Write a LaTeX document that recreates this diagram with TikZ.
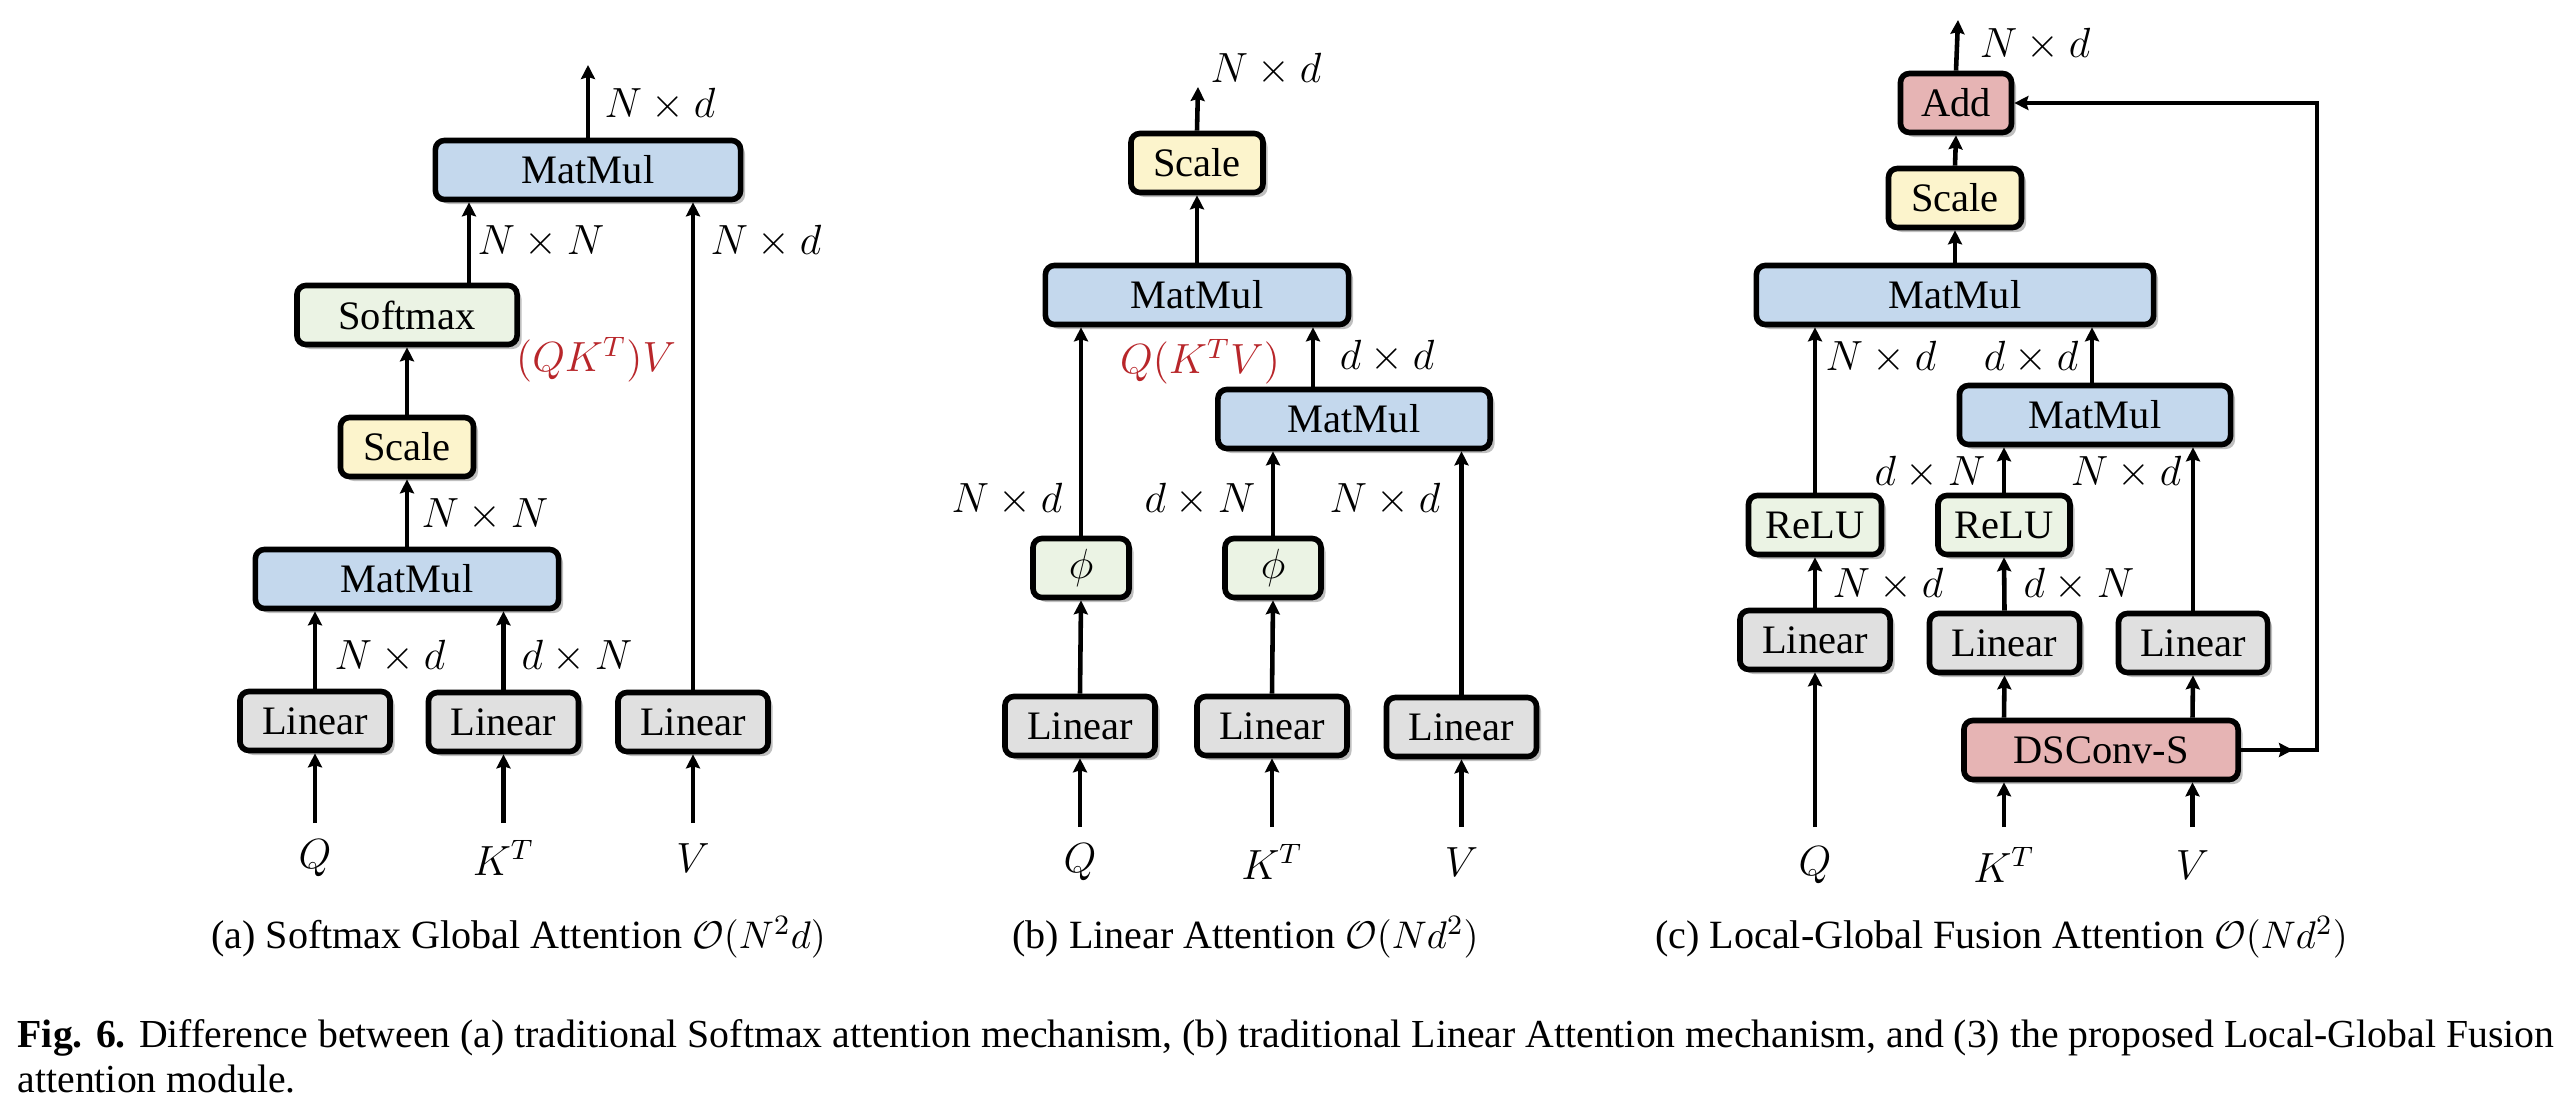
\documentclass[tikz,border=0pt]{standalone}
\usepackage{fontspec}
\setmainfont{Liberation Serif}
\usetikzlibrary{arrows.meta,shadows}
\definecolor{cblue}{HTML}{C4D8ED}
\definecolor{cgreen}{HTML}{EBF3E4}
\definecolor{cyellow}{HTML}{FCF4CC}
\definecolor{cgray}{HTML}{E0E0E0}
\definecolor{cpink}{HTML}{E6B4B4}
\definecolor{cred}{HTML}{B8262A}
\tikzset{
  blk/.style={draw=black, line width=1.6pt, rounded corners=0.09cm, inner sep=0pt,
    minimum height=0.59cm, font=\fontsize{11.5}{13}\selectfont,
    drop shadow={shadow xshift=0.045cm, shadow yshift=-0.045cm, opacity=0.25, fill=black}},
  mm/.style={blk, fill=cblue},
  gr/.style={blk, fill=cgreen},
  yl/.style={blk, fill=cyellow},
  ln/.style={blk, fill=cgray},
  pk/.style={blk, fill=cpink},
  lbl/.style={inner sep=0pt, font=\fontsize{11.5}{13}\selectfont},
  rlbl/.style={lbl, text=cred},
  arr/.style={line width=1.3pt, -{Stealth[length=0.14cm,width=0.14cm,inset=0.02cm]}},
  subcap/.style={inner sep=0pt, anchor=base, font=\fontsize{11.4}{13}\selectfont},
  figcap/.style={inner sep=0pt, anchor=base west, font=\fontsize{11.3}{13}\selectfont},
}
\begin{document}
\begin{tikzpicture}[x=0.01cm, y=-0.01cm]
\useasboundingbox (0,0) rectangle (2566,1118);
\fill[white] (0,0) rectangle (2566,1118);

% ---------------- Panel (a) ----------------
\node[mm, minimum width=3.05cm] (amm2) at (588,170) {MatMul};
\node[gr, minimum width=2.20cm] (asm) at (407,315) {Softmax};
\node[yl, minimum width=1.33cm] (asc) at (407,447) {Scale};
\node[mm, minimum width=3.03cm] (amm1) at (407,579) {MatMul};
\node[ln, minimum width=1.50cm] (al1) at (315,721) {Linear};
\node[ln, minimum width=1.50cm] (al2) at (503.5,722) {Linear};
\node[ln, minimum width=1.50cm] (al3) at (693,722) {Linear};
\node[lbl] (aQ) at (315,858) {$Q$};
\node[lbl] (aK) at (503.5,858) {$K^{T}$};
\node[lbl] (aV) at (693,858) {$V$};
\coordinate (aqi) at (315,823);
\coordinate (aki) at (503.5,823);
\coordinate (avi) at (693,823);
\coordinate (aout) at (588,65);
\coordinate (asmx) at (469,0);

\draw[arr] (aqi) -- (al1.south);
\draw[arr] (aki) -- (al2.south);
\draw[arr] (avi) -- (al3.south);
\draw[arr] (al1.north) -- (al1.north |- amm1.south);
\draw[arr] (al2.north) -- (al2.north |- amm1.south);
\draw[arr] (amm1.north) -- (asc.south);
\draw[arr] (asc.north) -- (asm.south);
\draw[arr] (asmx |- asm.north) -- (asmx |- amm2.south);
\draw[arr] (al3.north) -- (al3.north |- amm2.south);
\draw[arr] (amm2.north) -- (aout);

\node[lbl] (aL1) at (660,105) {$N\times d$};
\node[lbl] (aL2) at (541,242) {$N\times N$};
\node[lbl] (aL3) at (766,242) {$N\times d$};
\node[rlbl] (aL4) at (596,360) {$(QK^{T})V$};
\node[lbl] (aL5) at (485,515) {$N\times N$};
\node[lbl] (aL6) at (390,657) {$N\times d$};
\node[lbl] (aL7) at (577,657) {$d\times N$};

% ---------------- Panel (b) ----------------
\node[yl, minimum width=1.32cm] (bsc) at (1197,163) {Scale};
\node[mm, minimum width=3.03cm] (bmm2) at (1197,295) {MatMul};
\node[mm, minimum width=2.72cm] (bmm1) at (1354,419) {MatMul};
\node[gr, minimum width=0.96cm] (bp1) at (1081,568) {$\phi$};
\node[gr, minimum width=0.96cm] (bp2) at (1273,568) {$\phi$};
\node[ln, minimum width=1.50cm] (bl1) at (1080,726) {Linear};
\node[ln, minimum width=1.50cm] (bl2) at (1272,726) {Linear};
\node[ln, minimum width=1.50cm] (bl3) at (1461.5,727) {Linear};
\node[lbl] (bQ) at (1080,862) {$Q$};
\node[lbl] (bK) at (1272,862) {$K^{T}$};
\node[lbl] (bV) at (1461.5,862) {$V$};
\coordinate (bqi) at (1080,827);
\coordinate (bki) at (1272,827);
\coordinate (bvi) at (1461.5,827);
\coordinate (bout) at (1198,87);
\coordinate (bmx) at (1313,0);

\draw[arr] (bqi) -- (bl1.south);
\draw[arr] (bki) -- (bl2.south);
\draw[arr] (bvi) -- (bl3.south);
\draw[arr] (bl1.north) -- (bp1.south);
\draw[arr] (bl2.north) -- (bp2.south);
\draw[arr] (bp1.north) -- (bp1.north |- bmm2.south);
\draw[arr] (bp2.north) -- (bp2.north |- bmm1.south);
\draw[arr] (bl3.north) -- (bl3.north |- bmm1.south);
\draw[arr] (bmx |- bmm1.north) -- (bmx |- bmm2.south);
\draw[arr] (bmm2.north) -- (bsc.south);
\draw[arr] (bsc.north) -- (bout);

\node[lbl] (bL1) at (1266,70) {$N\times d$};
\node[rlbl] (bL2) at (1200,362) {$Q(K^{T}V)$};
\node[lbl] (bL3) at (1387,357) {$d\times d$};
\node[lbl] (bL4) at (1007,500) {$N\times d$};
\node[lbl] (bL5) at (1200,500) {$d\times N$};
\node[lbl] (bL6) at (1385,500) {$N\times d$};

% ---------------- Panel (c) ----------------
\node[pk, minimum width=1.11cm] (cadd) at (1956,103) {Add};
\node[yl, minimum width=1.33cm] (csc) at (1955,198) {Scale};
\node[mm, minimum width=3.97cm] (cmm2) at (1955,295) {MatMul};
\node[mm, minimum width=2.71cm] (cmm1) at (2095,415) {MatMul};
\node[gr, minimum width=1.33cm] (cr1) at (1815,525) {ReLU};
\node[gr, minimum width=1.32cm] (cr2) at (2004,525) {ReLU};
\node[ln, minimum width=1.50cm] (cl1) at (1815,640) {Linear};
\node[ln, minimum width=1.50cm] (cl2) at (2004.5,643) {Linear};
\node[ln, minimum width=1.49cm] (cl3) at (2193,643) {Linear};
\node[pk, minimum width=2.74cm] (cds) at (2101,750) {DSConv-S};
\node[lbl] (cQ) at (1815,865) {$Q$};
\node[lbl] (cK) at (2004,865) {$K^{T}$};
\node[lbl] (cV) at (2192.5,865) {$V$};
\coordinate (cqi) at (1815,827);
\coordinate (cki) at (2004,827);
\coordinate (cvi) at (2192.5,827);
\coordinate (cout) at (1958,20);
\coordinate (cmx) at (2092,0);
\coordinate (ccorner) at (2317,750);
\coordinate (cmid) at (2293,750);

\draw[arr] (cqi) -- (cl1.south);
\draw[arr] (cki) -- (cki |- cds.south);
\draw[arr] (cvi) -- (cvi |- cds.south);
\draw[arr] (cki |- cds.north) -- (cl2.south);
\draw[arr] (cvi |- cds.north) -- (cl3.south);
\draw[arr] (cl1.north) -- (cr1.south);
\draw[arr] (cl2.north) -- (cr2.south);
\draw[arr] (cr1.north) -- (cr1.north |- cmm2.south);
\draw[arr] (cr2.north) -- (cr2.north |- cmm1.south);
\draw[arr] (cl3.north) -- (cl3.north |- cmm1.south);
\draw[arr] (cmx |- cmm1.north) -- (cmx |- cmm2.south);
\draw[arr] (cmm2.north) -- (csc.south);
\draw[arr] (csc.north) -- (cadd.south);
\draw[arr] (cadd.north) -- (cout);
\draw[arr] (cds.east) -- (cmid);
\draw[arr] (cds.east) -- (ccorner) |- (cadd.east);

\node[lbl] (cL1) at (2035,45) {$N\times d$};
\node[lbl] (cL2) at (1881,358) {$N\times d$};
\node[lbl] (cL3) at (2031,358) {$d\times d$};
\node[lbl] (cL4) at (1930,473) {$d\times N$};
\node[lbl] (cL5) at (2126,473) {$N\times d$};
\node[lbl] (cL6) at (1888,585) {$N\times d$};
\node[lbl] (cL7) at (2079,585) {$d\times N$};

% ---------------- Captions ----------------
\node[subcap] (capa) at (518.5,948) {(a) Softmax Global Attention $\mathcal{O}(N^2d)$};
\node[subcap] (capb) at (1245.5,948) {(b) Linear Attention $\mathcal{O}(Nd^2)$};
\node[subcap] (capc) at (2001.5,948) {(c) Local-Global Fusion Attention $\mathcal{O}(Nd^2)$};
\node[figcap] (fig1) at (17,1047) {\textbf{Fig. 6.} Difference between (a) traditional Softmax attention mechanism, (b) traditional Linear Attention mechanism, and (3) the proposed Local-Global Fusion};
\node[figcap] (fig2) at (17,1092) {attention module.};
\end{tikzpicture}
\end{document}
